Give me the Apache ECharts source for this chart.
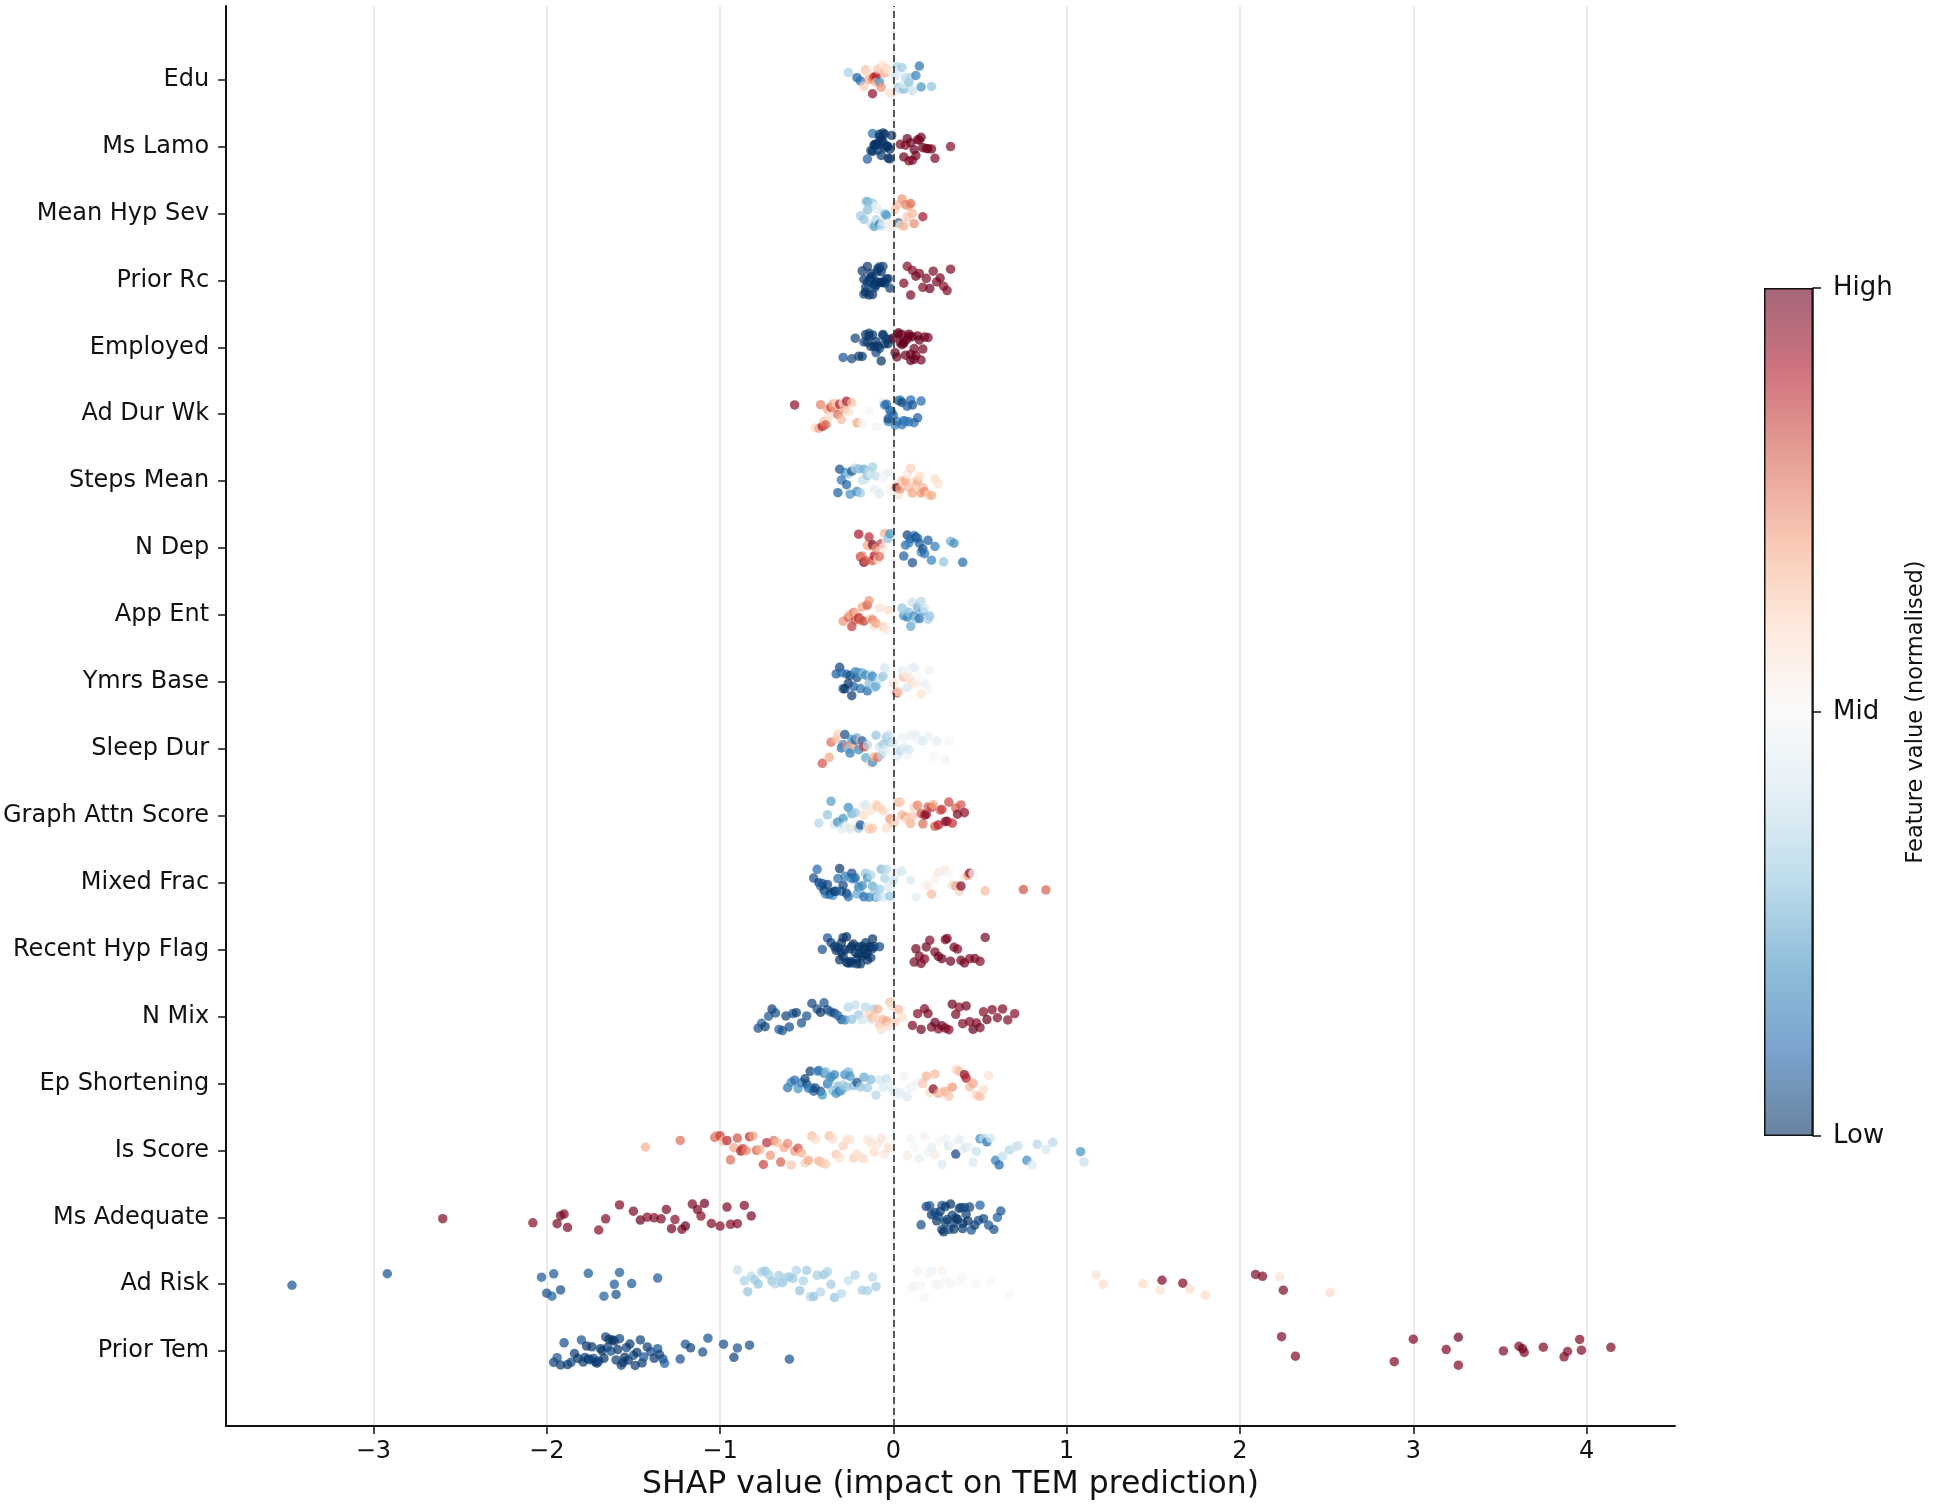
<!DOCTYPE html>
<html>
<head>
<meta charset="utf-8">
<script src="https://cdn.jsdelivr.net/npm/echarts@6/dist/echarts.min.js"></script>
<style>
  html, body { margin: 0; padding: 0; background: #fff; }
  #chart { width: 1947px; height: 1506px; }
</style>
</head>
<body>
<div id="chart"></div>
<script>
// feature rows, top to bottom
var features = ['Edu', 'Ms Lamo', 'Mean Hyp Sev', 'Prior Rc', 'Employed', 'Ad Dur Wk', 'Steps Mean', 'N Dep',
  'App Ent', 'Ymrs Base', 'Sleep Dur', 'Graph Attn Score', 'Mixed Frac', 'Recent Hyp Flag', 'N Mix',
  'Ep Shortening', 'Is Score', 'Ms Adequate', 'Ad Risk', 'Prior Tem'];
var xTicks = [-3, -2, -1, 0, 1, 2, 3, 4];
var colorbarLabels = ['Low', 'Mid', 'High'];

// each point: [shap value, normalised feature value]
var edu = [[-0.26,0.33],[-0.21,0.08],[-0.19,0.12],[-0.17,0.62],[-0.16,0.66],[-0.15,0.6],[-0.14,0.7],[-0.13,0.62],
  [-0.12,0.75],[-0.12,0.95],[-0.11,0.85],[-0.1,0.9],[-0.1,0.66],[-0.09,0.65],[-0.08,0.6],[-0.08,0.2],[-0.07,0.72],
  [-0.06,0.58],[-0.05,0.68],[-0.04,0.62],[-0.03,0.56],[-0.02,0.6],[0.01,0.4],[0.02,0.35],[0.03,0.3],[0.03,0.45],
  [0.04,0.42],[0.05,0.32],[0.06,0.28],[0.06,0.44],[0.07,0.36],[0.08,0.4],[0.09,0.3],[0.1,0.34],[0.11,0.38],
  [0.13,0.15],[0.15,0.12],[0.16,0.2],[0.22,0.3]];
var msLamo = [[-0.15,0.08],[-0.13,0.01],[-0.12,0.0],[-0.12,0.12],[-0.11,0.01],[-0.11,0.02],[-0.1,0.0],[-0.1,0.01],
  [-0.09,0.01],[-0.09,0.02],[-0.08,0.0],[-0.08,0.02],[-0.07,0.01],[-0.07,0.0],[-0.06,0.0],[-0.06,0.02],
  [-0.05,0.01],[-0.05,0.0],[-0.04,0.0],[-0.04,0.02],[-0.03,0.01],[-0.03,0.0],[-0.02,0.01],[-0.02,0.0],[-0.01,0.01],
  [0.04,0.98],[0.06,0.99],[0.07,0.97],[0.08,1.0],[0.09,0.98],[0.1,0.99],[0.11,0.97],[0.12,1.0],[0.13,0.98],
  [0.14,0.99],[0.15,0.97],[0.16,0.99],[0.17,1.0],[0.19,0.98],[0.2,0.97],[0.22,0.99],[0.24,0.98],[0.33,0.96]];
var meanHypSev = [[-0.19,0.32],[-0.17,0.3],[-0.16,0.36],[-0.15,0.28],[-0.15,0.25],[-0.14,0.34],[-0.13,0.4],[-0.12,0.3],
  [-0.11,0.22],[-0.1,0.35],[-0.1,0.48],[-0.09,0.45],[-0.08,0.15],[-0.07,0.38],[-0.06,0.42],[-0.05,0.3],[-0.04,0.2],
  [-0.03,0.5],[-0.02,0.46],[-0.01,0.55],[0.01,0.62],[0.02,0.66],[0.03,0.7],[0.03,0.15],[0.04,0.58],[0.05,0.72],
  [0.06,0.68],[0.07,0.75],[0.08,0.64],[0.09,0.7],[0.1,0.78],[0.11,0.66],[0.12,0.74],[0.17,0.92]];
var priorRc = [[-0.18,0.02],[-0.17,0.01],[-0.17,0.03],[-0.16,0.0],[-0.16,0.02],[-0.15,0.01],[-0.15,0.04],[-0.14,0.0],
  [-0.14,0.01],[-0.13,0.02],[-0.13,0.0],[-0.12,0.01],[-0.12,0.02],[-0.12,0.06],[-0.11,0.0],[-0.11,0.03],[-0.1,0.01],
  [-0.1,0.02],[-0.09,0.0],[-0.09,0.02],[-0.08,0.01],[-0.08,0.02],[-0.07,0.0],[-0.07,0.01],[-0.06,0.01],[-0.06,0.03],
  [-0.05,0.0],[-0.04,0.02],[-0.03,0.01],[-0.02,0.02],
  [0.06,0.97],[0.08,0.96],[0.1,0.98],[0.11,0.97],[0.13,0.99],[0.15,0.97],[0.17,0.96],[0.19,0.98],[0.21,1.0],
  [0.23,0.97],[0.25,0.97],[0.27,0.99],[0.29,0.96],[0.31,0.97],[0.33,0.97]];
var employed = [[-0.29,0.06],[-0.24,0.04],[-0.22,0.03],[-0.2,0.02],[-0.18,0.01],[-0.17,0.03],[-0.16,0.0],[-0.15,0.02],
  [-0.14,0.04],[-0.14,0.01],[-0.13,0.01],[-0.12,0.02],[-0.11,0.0],[-0.1,0.03],[-0.1,0.0],[-0.09,0.01],[-0.08,0.02],
  [-0.07,0.0],[-0.06,0.02],[-0.06,0.01],[-0.05,0.01],[-0.04,0.03],[-0.03,0.0],[-0.02,0.02],
  [0.0,0.99],[0.01,1.0],[0.02,0.99],[0.03,1.0],[0.03,0.99],[0.04,1.0],[0.05,0.99],[0.05,1.0],[0.06,0.99],
  [0.06,1.0],[0.07,1.0],[0.08,0.99],[0.09,0.99],[0.09,1.0],[0.1,0.99],[0.1,1.0],[0.11,1.0],[0.12,0.99],
  [0.12,1.0],[0.13,0.99],[0.14,0.99],[0.15,1.0],[0.16,0.99],[0.17,0.99],[0.18,1.0],[0.2,0.98]];
var adDurWk = [[-0.57,0.95],[-0.45,0.6],[-0.43,0.7],[-0.42,0.75],[-0.41,0.9],[-0.4,0.65],[-0.39,0.8],[-0.38,0.7],
  [-0.37,0.6],[-0.36,0.85],[-0.35,0.68],[-0.34,0.72],[-0.33,0.62],[-0.32,0.78],[-0.31,0.9],[-0.3,0.66],[-0.29,0.55],
  [-0.28,0.7],[-0.27,0.92],[-0.26,0.6],[-0.24,0.65],[-0.21,0.7],[-0.18,0.52],[-0.14,0.5],[-0.1,0.48],
  [-0.06,0.45],[-0.05,0.15],[-0.04,0.1],[-0.03,0.18],[-0.03,0.03],[-0.02,0.08],[-0.01,0.14],[0.0,0.1],[0.01,0.16],
  [0.02,0.12],[0.03,0.05],[0.04,0.18],[0.05,0.12],[0.05,0.03],[0.06,0.1],[0.07,0.16],[0.08,0.08],[0.09,0.14],
  [0.1,0.1],[0.11,0.06],[0.12,0.12],[0.14,0.08],[0.16,0.1]];
var stepsMean = [[-0.32,0.08],[-0.31,0.05],[-0.3,0.12],[-0.28,0.16],[-0.27,0.08],[-0.26,0.3],[-0.25,0.2],[-0.24,0.06],
  [-0.22,0.35],[-0.21,0.16],[-0.2,0.28],[-0.19,0.32],[-0.18,0.38],[-0.17,0.25],[-0.16,0.4],[-0.15,0.3],[-0.14,0.36],
  [-0.13,0.42],[-0.12,0.33],[-0.11,0.45],[-0.1,0.38],[-0.09,0.47],[-0.08,0.43],[-0.06,0.48],[-0.05,0.5],[-0.03,0.46],
  [-0.02,0.52],[0.01,0.62],[0.02,0.95],[0.03,0.58],[0.04,0.72],[0.05,0.65],[0.06,0.6],[0.07,0.7],[0.08,0.56],
  [0.09,0.66],[0.1,0.62],[0.11,0.7],[0.12,0.58],[0.13,0.64],[0.14,0.68],[0.15,0.6],[0.16,0.72],[0.17,0.66],
  [0.18,0.74],[0.2,0.62],[0.22,0.7],[0.24,0.6],[0.26,0.58]];
var nDep = [[-0.2,0.92],[-0.19,0.85],[-0.18,0.75],[-0.17,0.97],[-0.16,0.8],[-0.15,0.7],[-0.14,0.88],[-0.13,0.65],
  [-0.12,0.82],[-0.12,0.98],[-0.11,0.9],[-0.1,0.72],[-0.09,0.6],[-0.08,0.78],[-0.07,0.85],[-0.06,0.55],[-0.05,0.68],
  [-0.04,0.5],[-0.03,0.3],[-0.02,0.2],[0.06,0.08],[0.07,0.12],[0.08,0.03],[0.09,0.16],[0.1,0.1],[0.11,0.05],
  [0.12,0.14],[0.13,0.03],[0.14,0.12],[0.15,0.08],[0.16,0.18],[0.17,0.05],[0.18,0.12],[0.2,0.08],[0.22,0.16],
  [0.24,0.14],[0.29,0.3],[0.33,0.26],[0.35,0.18],[0.4,0.1]];
var appEnt = [[-0.29,0.72],[-0.26,0.8],[-0.25,0.68],[-0.24,0.85],[-0.23,0.75],[-0.22,0.82],[-0.21,0.65],[-0.2,0.9],
  [-0.19,0.78],[-0.18,0.7],[-0.17,0.84],[-0.16,0.66],[-0.15,0.8],[-0.14,0.72],[-0.13,0.62],[-0.12,0.76],[-0.11,0.6],
  [-0.1,0.7],[-0.08,0.58],[-0.06,0.62],[-0.04,0.56],[-0.03,0.6],[0.05,0.3],[0.06,0.2],[0.07,0.35],[0.08,0.16],
  [0.09,0.3],[0.1,0.24],[0.11,0.38],[0.12,0.18],[0.13,0.32],[0.14,0.26],[0.15,0.12],[0.16,0.36],[0.17,0.24],
  [0.18,0.4],[0.2,0.34],[0.21,0.3]];
var ymrsBase = [[-0.33,0.08],[-0.31,0.03],[-0.3,0.12],[-0.29,0.05],[-0.28,0.01],[-0.27,0.1],[-0.26,0.0],[-0.25,0.04],
  [-0.24,0.02],[-0.23,0.08],[-0.22,0.16],[-0.21,0.05],[-0.2,0.2],[-0.19,0.12],[-0.18,0.24],[-0.17,0.3],[-0.16,0.18],
  [-0.15,0.1],[-0.14,0.28],[-0.13,0.35],[-0.12,0.16],[-0.11,0.32],[-0.1,0.24],[-0.08,0.38],[-0.06,0.3],[-0.05,0.4],
  [0.0,0.58],[0.02,0.82],[0.03,0.62],[0.04,0.5],[0.05,0.45],[0.06,0.66],[0.07,0.52],[0.08,0.4],[0.09,0.56],
  [0.1,0.48],[0.11,0.6],[0.12,0.44],[0.13,0.54],[0.14,0.5],[0.16,0.58],[0.18,0.46],[0.2,0.52],[0.21,0.48]];
var sleepDur = [[-0.41,0.82],[-0.37,0.7],[-0.36,0.78],[-0.33,0.66],[-0.32,0.62],[-0.3,0.1],[-0.29,0.18],[-0.28,0.05],
  [-0.27,0.75],[-0.26,0.3],[-0.25,0.14],[-0.24,0.2],[-0.23,0.7],[-0.22,0.08],[-0.21,0.26],[-0.2,0.16],[-0.19,0.65],
  [-0.18,0.1],[-0.17,0.85],[-0.16,0.24],[-0.15,0.35],[-0.13,0.6],[-0.12,0.18],[-0.11,0.68],[-0.1,0.3],[-0.09,0.78],
  [-0.08,0.4],[-0.07,0.35],[-0.06,0.32],[-0.05,0.42],[-0.04,0.3],[-0.03,0.38],[-0.02,0.34],[0.0,0.4],[0.02,0.44],
  [0.04,0.36],[0.05,0.46],[0.06,0.42],[0.08,0.48],[0.09,0.4],[0.1,0.45],[0.12,0.5],[0.13,0.44],[0.15,0.48],
  [0.17,0.42],[0.2,0.46],[0.23,0.5],[0.25,0.44],[0.3,0.48],[0.32,0.5]];
var graphAttnScore = [[-0.43,0.35],[-0.38,0.3],[-0.36,0.22],[-0.34,0.4],[-0.32,0.15],[-0.31,0.28],[-0.3,0.45],
  [-0.29,0.2],[-0.28,0.35],[-0.27,0.5],[-0.26,0.18],[-0.25,0.42],[-0.24,0.25],[-0.23,0.55],[-0.22,0.32],[-0.21,0.48],
  [-0.2,0.3],[-0.19,0.06],[-0.18,0.52],[-0.17,0.6],[-0.16,0.4],[-0.15,0.56],[-0.14,0.62],[-0.13,0.58],[-0.12,0.64],
  [-0.1,0.6],[-0.09,0.66],[-0.08,0.58],[-0.06,0.62],[-0.04,0.6],[-0.02,0.72],[0.0,0.65],[0.01,0.6],[0.03,0.68],
  [0.04,0.62],[0.05,0.66],[0.07,0.7],[0.08,0.6],[0.1,0.68],[0.11,0.64],[0.12,0.62],[0.14,0.75],[0.16,0.82],
  [0.17,0.78],[0.18,0.88],[0.19,0.97],[0.2,0.8],[0.22,0.85],[0.23,0.7],[0.24,0.82],[0.26,0.9],[0.27,0.78],
  [0.28,0.86],[0.3,0.92],[0.31,0.97],[0.32,0.84],[0.34,0.88],[0.36,0.8],[0.37,0.98],[0.39,0.82],[0.41,0.96]];
var mixedFrac = [[-0.46,0.05],[-0.44,0.1],[-0.43,0.02],[-0.42,0.12],[-0.41,0.06],[-0.4,0.01],[-0.39,0.15],[-0.38,0.03],
  [-0.37,0.1],[-0.36,0.02],[-0.35,0.18],[-0.34,0.0],[-0.33,0.05],[-0.32,0.12],[-0.31,0.01],[-0.3,0.08],[-0.29,0.03],
  [-0.28,0.14],[-0.27,0.0],[-0.26,0.1],[-0.25,0.2],[-0.24,0.05],[-0.23,0.16],[-0.22,0.1],[-0.21,0.24],[-0.2,0.13],
  [-0.19,0.28],[-0.18,0.18],[-0.17,0.1],[-0.16,0.3],[-0.15,0.2],[-0.14,0.16],[-0.13,0.35],[-0.12,0.24],[-0.11,0.3],
  [-0.1,0.18],[-0.09,0.38],[-0.08,0.32],[-0.07,0.28],[-0.06,0.4],[-0.05,0.34],[-0.04,0.36],[-0.03,0.42],[-0.02,0.3],
  [0.0,0.38],[0.02,0.44],[0.05,0.4],[0.1,0.42],[0.13,0.45],[0.18,0.5],[0.2,0.55],[0.22,0.66],[0.24,0.52],
  [0.26,0.58],[0.28,0.48],[0.3,0.56],[0.32,0.5],[0.34,0.6],[0.35,0.45],[0.36,0.7],[0.38,0.62],[0.39,0.97],
  [0.41,0.55],[0.43,0.7],[0.44,0.95],[0.46,0.5],[0.53,0.66],[0.75,0.82],[0.88,0.8]];
var recentHypFlag = [[-0.41,0.05],[-0.38,0.06],[-0.36,0.03],[-0.34,0.01],[-0.33,0.0],[-0.32,0.02],[-0.31,0.0],
  [-0.3,0.02],[-0.29,0.0],[-0.28,0.01],[-0.27,0.0],[-0.26,0.02],[-0.25,0.0],[-0.24,0.01],[-0.23,0.0],[-0.22,0.02],
  [-0.21,0.0],[-0.2,0.01],[-0.19,0.0],[-0.18,0.02],[-0.17,0.0],[-0.16,0.01],[-0.15,0.0],[-0.14,0.02],[-0.13,0.0],
  [-0.12,0.01],[-0.11,0.03],[-0.3,0.0],[-0.27,0.01],[-0.24,0.0],[-0.21,0.01],[-0.18,0.0],[-0.15,0.01],
  [-0.12,0.0],[-0.08,0.04],[-0.29,0.01],[-0.25,0.01],[-0.2,0.0],[-0.16,0.0],[-0.13,0.01],
  [0.12,0.98],[0.13,0.99],[0.15,0.97],[0.16,0.98],[0.18,0.97],[0.19,1.0],[0.21,0.97],[0.24,0.98],[0.26,0.99],
  [0.28,1.0],[0.3,0.98],[0.31,0.97],[0.33,1.0],[0.35,0.98],[0.37,0.97],[0.39,0.99],[0.41,0.98],[0.44,0.97],
  [0.47,0.98],[0.5,0.97],[0.53,0.98]];
var nMix = [[-0.78,0.05],[-0.76,0.08],[-0.74,0.03],[-0.72,0.06],[-0.7,0.02],[-0.68,0.05],[-0.66,0.08],[-0.64,0.06],
  [-0.62,0.03],[-0.6,0.05],[-0.58,0.06],[-0.56,0.02],[-0.53,0.05],[-0.5,0.06],[-0.47,0.03],[-0.44,0.05],[-0.42,0.01],
  [-0.4,0.06],[-0.38,0.03],[-0.36,0.08],[-0.34,0.02],[-0.32,0.12],[-0.3,0.06],[-0.28,0.18],[-0.26,0.35],[-0.24,0.3],
  [-0.22,0.38],[-0.2,0.32],[-0.18,0.4],[-0.16,0.36],[-0.13,0.42],[-0.11,0.34],[-0.14,0.62],[-0.12,0.66],[-0.1,0.6],
  [-0.09,0.68],[-0.08,0.64],[-0.07,0.58],[-0.06,0.66],[-0.05,0.62],[-0.04,0.7],[-0.03,0.6],[-0.02,0.64],[-0.01,0.58],
  [0.01,0.62],[0.03,0.66],[0.05,0.6],[0.11,0.97],[0.14,0.96],[0.16,0.99],[0.18,0.97],[0.2,0.98],[0.22,0.97],
  [0.24,1.0],[0.26,0.96],[0.28,0.99],[0.3,0.97],[0.32,0.97],[0.34,1.0],[0.36,0.98],[0.38,0.96],[0.4,0.97],
  [0.42,0.99],[0.44,0.97],[0.46,1.0],[0.48,0.97],[0.5,0.98],[0.52,0.96],[0.54,1.0],[0.57,0.97],[0.6,0.97],
  [0.63,0.98],[0.66,0.97],[0.7,0.96]];
var epShortening = [[-0.61,0.12],[-0.59,0.18],[-0.57,0.1],[-0.55,0.2],[-0.53,0.15],[-0.51,0.02],[-0.5,0.05],
  [-0.49,0.12],[-0.48,0.02],[-0.47,0.18],[-0.46,0.08],[-0.45,0.04],[-0.44,0.24],[-0.43,0.1],[-0.42,0.05],[-0.41,0.2],
  [-0.4,0.16],[-0.39,0.28],[-0.38,0.12],[-0.37,0.24],[-0.36,0.18],[-0.35,0.3],[-0.34,0.16],[-0.33,0.2],[-0.32,0.28],
  [-0.31,0.12],[-0.3,0.24],[-0.29,0.32],[-0.28,0.18],[-0.27,0.3],[-0.26,0.26],[-0.25,0.2],[-0.23,0.28],[-0.21,0.05],
  [-0.19,0.3],[-0.17,0.24],[-0.15,0.32],[-0.13,0.28],[-0.1,0.35],[-0.08,0.4],[-0.06,0.42],[-0.04,0.38],[-0.02,0.45],
  [0.0,0.42],[0.02,0.46],[0.04,0.44],[0.06,0.48],[0.08,0.42],[0.1,0.46],[0.12,0.5],[0.14,0.48],[0.17,0.64],
  [0.19,0.68],[0.21,0.6],[0.23,0.97],[0.24,0.66],[0.26,0.7],[0.28,0.62],[0.3,0.68],[0.32,0.64],[0.34,0.72],
  [0.36,0.6],[0.38,0.66],[0.41,0.95],[0.42,0.9],[0.44,0.66],[0.46,0.7],[0.48,0.62],[0.5,0.66],[0.52,0.6],[0.55,0.58]];
var isScore = [[-1.43,0.68],[-1.23,0.78],[-1.03,0.8],[-1.02,0.72],[-1.0,0.85],[-0.98,0.66],[-0.96,0.88],[-0.94,0.78],
  [-0.92,0.7],[-0.9,0.82],[-0.88,0.92],[-0.87,0.86],[-0.85,0.75],[-0.83,0.88],[-0.81,0.7],[-0.79,0.8],[-0.77,0.68],
  [-0.75,0.84],[-0.73,0.88],[-0.71,0.72],[-0.69,0.78],[-0.67,0.66],[-0.65,0.8],[-0.63,0.7],[-0.61,0.74],[-0.59,0.64],
  [-0.57,0.72],[-0.55,0.82],[-0.53,0.68],[-0.51,0.62],[-0.49,0.7],[-0.47,0.66],[-0.45,0.6],[-0.43,0.68],[-0.41,0.64],
  [-0.39,0.62],[-0.37,0.66],[-0.35,0.6],[-0.33,0.64],[-0.31,0.58],[-0.29,0.62],[-0.27,0.6],[-0.25,0.58],[-0.23,0.62],
  [-0.21,0.6],[-0.19,0.58],[-0.17,0.6],[-0.15,0.56],[-0.13,0.58],[-0.11,0.6],[-0.09,0.56],[-0.07,0.58],[-0.05,0.56],
  [-0.03,0.6],[0.08,0.55],[0.1,0.48],[0.12,0.5],[0.15,0.46],[0.18,0.52],[0.2,0.48],[0.22,0.45],[0.24,0.55],
  [0.26,0.5],[0.28,0.42],[0.3,0.47],[0.32,0.4],[0.34,0.5],[0.36,0.03],[0.38,0.44],[0.4,0.46],[0.42,0.4],[0.44,0.48],
  [0.46,0.42],[0.48,0.38],[0.5,0.18],[0.52,0.36],[0.54,0.12],[0.56,0.4],[0.59,0.15],[0.61,0.1],[0.63,0.38],
  [0.67,0.35],[0.7,0.4],[0.72,0.38],[0.77,0.18],[0.8,0.42],[0.83,0.36],[0.88,0.4],[0.92,0.36],[1.08,0.2],[1.1,0.38]];
var msAdequate = [[-2.6,0.97],[-2.08,0.96],[-1.94,0.98],[-1.92,0.99],[-1.9,0.97],[-1.88,0.97],[-1.7,0.96],[-1.66,0.97],
  [-1.58,0.97],[-1.5,0.98],[-1.46,1.0],[-1.42,0.96],[-1.38,0.97],[-1.34,0.97],[-1.31,0.98],[-1.28,0.99],[-1.26,0.96],
  [-1.22,0.97],[-1.2,1.0],[-1.16,0.97],[-1.13,0.98],[-1.11,0.96],[-1.09,0.99],[-1.05,0.97],[-1.0,0.97],[-0.96,0.98],
  [-0.94,0.96],[-0.9,0.97],[-0.86,0.97],[-0.82,0.98],
  [0.16,0.05],[0.19,0.03],[0.21,0.06],[0.22,0.01],[0.24,0.03],[0.25,0.0],[0.26,0.05],[0.27,0.02],[0.28,0.06],
  [0.28,0.01],[0.29,0.0],[0.3,0.03],[0.3,0.02],[0.31,0.01],[0.32,0.05],[0.33,0.0],[0.34,0.02],[0.35,0.01],
  [0.35,0.02],[0.36,0.04],[0.37,0.0],[0.38,0.02],[0.39,0.03],[0.4,0.01],[0.4,0.02],[0.41,0.05],[0.42,0.02],
  [0.43,0.0],[0.44,0.03],[0.45,0.06],[0.47,0.02],[0.49,0.05],[0.5,0.08],[0.52,0.03],[0.55,0.06],[0.58,0.05],
  [0.6,0.08],[0.62,0.06]];
var adRisk = [[-3.47,0.06],[-2.92,0.06],[-2.03,0.07],[-2.0,0.05],[-1.97,0.08],[-1.96,0.07],[-1.92,0.05],[-1.76,0.07],
  [-1.67,0.08],[-1.61,0.07],[-1.6,0.05],[-1.58,0.08],[-1.51,0.07],[-1.36,0.07],
  [-0.9,0.38],[-0.86,0.34],[-0.84,0.3],[-0.82,0.36],[-0.8,0.32],[-0.78,0.3],[-0.76,0.34],[-0.74,0.31],[-0.72,0.33],
  [-0.7,0.3],[-0.68,0.35],[-0.66,0.32],[-0.64,0.3],[-0.62,0.34],[-0.6,0.33],[-0.58,0.31],[-0.56,0.35],[-0.54,0.3],
  [-0.52,0.34],[-0.5,0.32],[-0.48,0.36],[-0.46,0.3],[-0.44,0.33],[-0.42,0.35],[-0.4,0.31],[-0.38,0.34],[-0.36,0.32],
  [-0.34,0.3],[-0.3,0.36],[-0.26,0.38],[-0.22,0.35],[-0.18,0.33],[-0.15,0.34],[-0.12,0.36],[-0.1,0.32],
  [0.1,0.5],[0.12,0.48],[0.14,0.52],[0.16,0.49],[0.18,0.51],[0.2,0.5],[0.22,0.47],[0.24,0.5],[0.26,0.48],
  [0.28,0.52],[0.3,0.5],[0.33,0.48],[0.38,0.5],[0.4,0.49],[0.48,0.5],[0.56,0.51],[0.67,0.5],
  [1.17,0.58],[1.21,0.6],[1.44,0.6],[1.54,0.58],[1.55,0.97],[1.67,0.97],[1.71,0.6],[1.8,0.6],[2.09,0.97],
  [2.13,0.97],[2.23,0.58],[2.25,0.97],[2.52,0.6]];
var priorTem = [[-1.96,0.03],[-1.94,0.06],[-1.92,0.02],[-1.9,0.05],[-1.88,0.01],[-1.86,0.04],[-1.84,0.02],[-1.82,0.0],
  [-1.8,0.06],[-1.79,0.02],[-1.78,0.03],[-1.77,0.01],[-1.76,0.0],[-1.75,0.05],[-1.74,0.01],[-1.73,0.02],[-1.72,0.03],
  [-1.71,0.0],[-1.7,0.04],[-1.69,0.01],[-1.68,0.02],[-1.67,0.0],[-1.66,0.03],[-1.65,0.02],[-1.64,0.01],[-1.63,0.05],
  [-1.62,0.0],[-1.61,0.0],[-1.6,0.02],[-1.59,0.01],[-1.58,0.04],[-1.57,0.02],[-1.56,0.02],[-1.55,0.0],[-1.54,0.03],
  [-1.53,0.01],[-1.52,0.01],[-1.5,0.05],[-1.49,0.02],[-1.48,0.0],[-1.46,0.03],[-1.45,0.02],[-1.44,0.06],[-1.42,0.02],
  [-1.4,0.05],[-1.38,0.02],[-1.36,0.06],[-1.35,0.03],[-1.33,0.05],[-1.32,0.08],[-1.23,0.05],[-1.2,0.06],[-1.17,0.03],
  [-1.1,0.05],[-1.07,0.06],[-0.98,0.05],[-0.92,0.03],[-0.9,0.06],[-0.83,0.05],[-0.6,0.06],
  [2.24,0.97],[2.32,0.97],[2.89,0.97],[3.0,0.97],[3.19,0.97],[3.26,0.99],[3.26,0.97],[3.52,0.97],[3.61,0.97],
  [3.63,0.99],[3.64,0.97],[3.75,0.97],[3.87,0.97],[3.89,0.97],[3.96,0.97],[3.97,0.97],[4.14,0.97]];

var rows = [edu, msLamo, meanHypSev, priorRc, employed, adDurWk, stepsMean, nDep, appEnt, ymrsBase, sleepDur,
  graphAttnScore, mixedFrac, recentHypFlag, nMix, epShortening, isScore, msAdequate, adRisk, priorTem];

// RdBu_r
var rdbu = ['#053061', '#2166ac', '#4393c3', '#92c5de', '#d1e5f0', '#f7f7f7', '#fddbc7', '#f4a582', '#d6604d', '#b2182b', '#67001f'];

function withAlpha(hex, a) {
  var n = parseInt(hex.slice(1), 16);
  return 'rgba(' + (n >> 16) + ',' + ((n >> 8) & 255) + ',' + (n & 255) + ',' + a + ')';
}

// strip plot jitter: deterministic hash of row/index, layout only
function jitter(r, i) {
  var s = Math.sin((i + 1) * 12.9898 + (r + 1) * 78.233) * 43758.5453;
  return (s - Math.floor(s) - 0.5) * 0.44;
}

var points = [];
rows.forEach(function (row, r) {
  var base = features.length - 1 - r;
  row.forEach(function (p, i) {
    points.push([p[0], base + jitter(r, i), p[1]]);
  });
});

var yTicks = features.map(function (f, i) { return i; });
var txt = '#111';
var font = 'DejaVu Sans';

var chart = echarts.init(document.getElementById('chart'));
chart.setOption({
  backgroundColor: '#fff',
  animation: false,
  textStyle: { fontFamily: font },
  grid: [
    { left: 224, top: 6, right: 272, bottom: 78 },
    { left: 1764, top: 288, width: 49, height: 848 }
  ],
  xAxis: [{
    type: 'value',
    min: -3.85,
    max: 4.51,
    name: 'SHAP value (impact on TEM prediction)',
    nameLocation: 'middle',
    nameGap: 40,
    nameTextStyle: { fontSize: 31.5, color: txt, fontFamily: font },
    axisLine: { onZero: false, lineStyle: { color: '#111', width: 2 } },
    axisTick: { customValues: xTicks, length: 8, lineStyle: { color: '#111', width: 1.5 } },
    axisLabel: {
      customValues: xTicks,
      fontSize: 24, color: txt, margin: 14, fontFamily: font,
      formatter: function (v) { return v < 0 ? '\u2212' + (-v) : String(v); }
    },
    splitLine: { show: true, lineStyle: { color: '#e4e4e4', width: 1.5 } }
  }, {
    gridIndex: 1, type: 'category', data: ['cb'], show: false
  }],
  yAxis: [{
    type: 'value',
    min: -1.12,
    max: 20.1,
    axisLine: { show: true, onZero: false, lineStyle: { color: '#111', width: 2 } },
    axisTick: { show: true, customValues: yTicks, length: 8, lineStyle: { color: '#111', width: 1.5 } },
    axisLabel: {
      customValues: yTicks,
      fontSize: 24, color: txt, margin: 17, fontFamily: font,
      formatter: function (v) { return features[features.length - 1 - v]; }
    },
    splitLine: { show: false }
  }, {
    gridIndex: 1,
    type: 'value',
    position: 'right',
    min: 0,
    max: 1,
    interval: 0.5,
    name: 'Feature value (normalised)',
    nameLocation: 'middle',
    nameRotate: 90,
    nameGap: 92,
    nameTextStyle: { fontSize: 22.5, color: txt, fontFamily: font },
    axisLine: { show: true, onZero: false, lineStyle: { color: '#111', width: 1.5 } },
    axisTick: { show: true, length: 8, lineStyle: { color: '#111', width: 1.5 } },
    axisLabel: {
      fontSize: 26, color: txt, margin: 20, fontFamily: font,
      formatter: function (v) { return colorbarLabels[Math.round(v * 2)]; }
    },
    splitLine: { show: false }
  }],
  visualMap: {
    show: false,
    type: 'continuous',
    seriesIndex: 0,
    dimension: 2,
    min: 0,
    max: 1,
    inRange: { color: rdbu }
  },
  series: [{
    type: 'scatter',
    data: points,
    symbolSize: 9.5,
    itemStyle: { opacity: 0.7 },
    silent: true,
    markLine: {
      silent: true,
      symbol: 'none',
      label: { show: false },
      lineStyle: { color: '#333', width: 1.6, type: [7, 4] },
      data: [{ xAxis: 0 }]
    }
  }, {
    type: 'bar',
    xAxisIndex: 1,
    yAxisIndex: 1,
    data: [1],
    barWidth: '100%',
    silent: true,
    itemStyle: {
      borderColor: '#111',
      borderWidth: 1.5,
      color: new echarts.graphic.LinearGradient(0, 1, 0, 0, rdbu.map(function (c, i) {
        return { offset: i / (rdbu.length - 1), color: withAlpha(c, 0.6) };
      }))
    }
  }]
});
</script>
</body>
</html>
